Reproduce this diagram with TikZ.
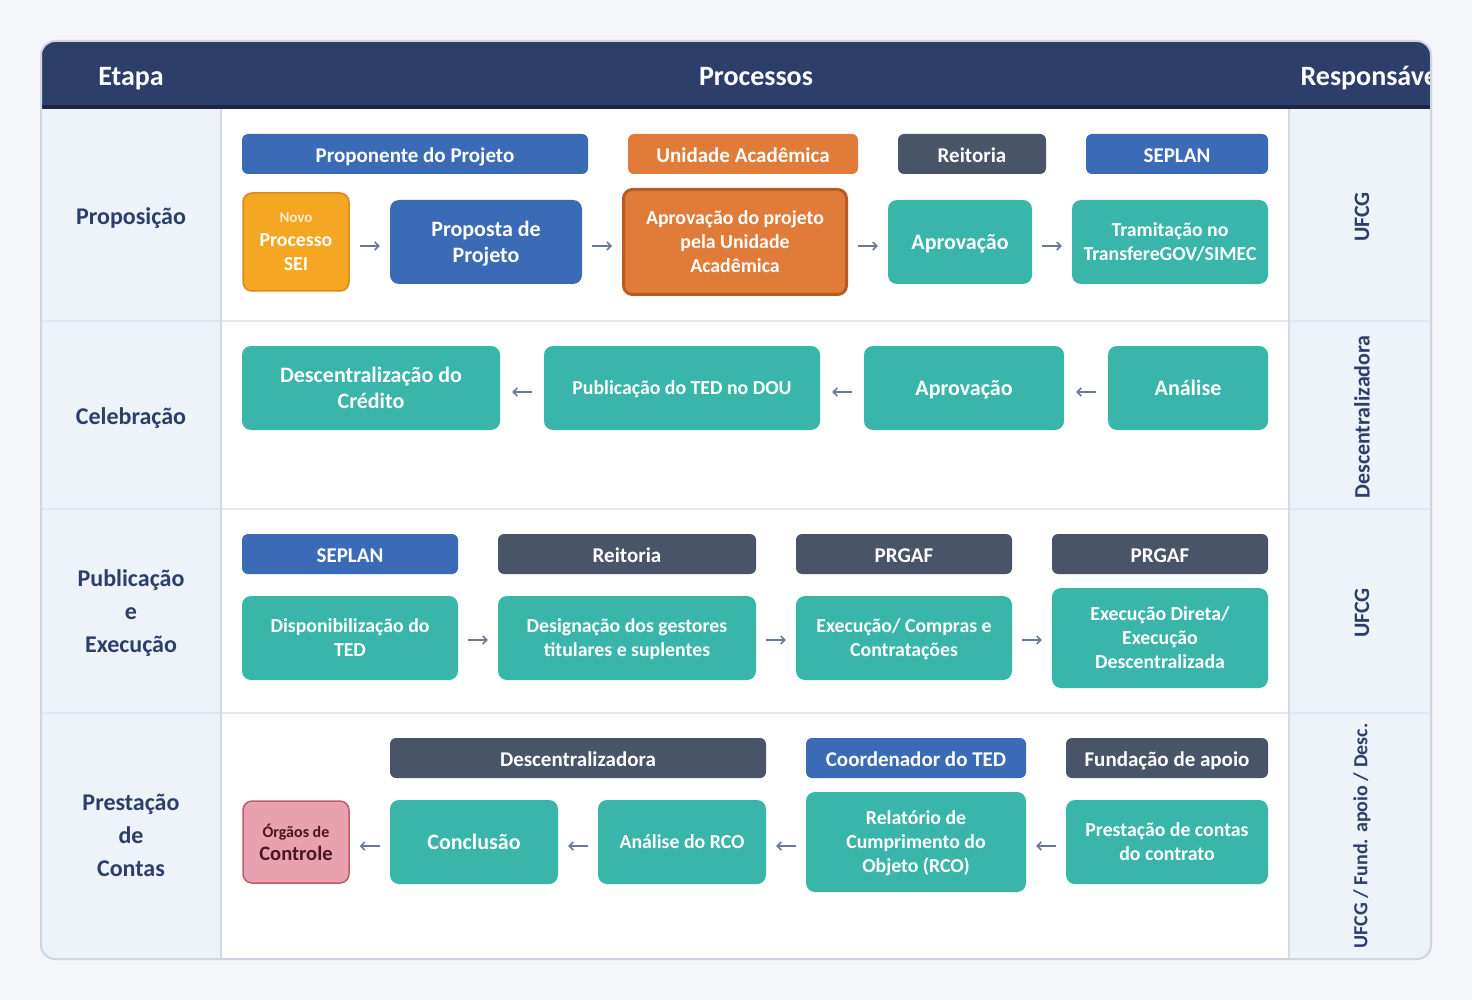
\documentclass[tikz,border=0pt]{standalone}
\usepackage{fontspec}
\setmainfont{Carlito}
\newcommand\semifont{\bfseries}
\usetikzlibrary{arrows.meta}
\definecolor{pagebg}{HTML}{F4F6FA}
\definecolor{headblue}{HTML}{2D3E6B}
\definecolor{headdark}{HTML}{1B2545}
\definecolor{cellbg}{HTML}{EEF3FA}
\definecolor{rowline}{HTML}{E3E8F0}
\definecolor{colline}{HTML}{D3DAE5}
\definecolor{outerline}{HTML}{CDD5E0}
\definecolor{navy}{HTML}{2C3E6B}
\definecolor{cblue}{HTML}{3B6BB7}
\definecolor{corange}{HTML}{E07B39}
\definecolor{corangedk}{HTML}{B85B22}
\definecolor{cgrey}{HTML}{4A5468}
\definecolor{cteal}{HTML}{3AB5A9}
\definecolor{cyellow}{HTML}{F5A623}
\definecolor{cyellowdk}{HTML}{D98B1C}
\definecolor{cpink}{HTML}{E8A1AF}
\definecolor{cpinkdk}{HTML}{C25A70}
\definecolor{cmaroon}{HTML}{4B1522}
\definecolor{carrow}{HTML}{6B7896}
\tikzset{
  lab/.style={rounded corners=6pt, minimum height=40pt, text=white, inner sep=0pt,
    text height=17pt, text depth=0pt, font=\fontsize{21}{22}\selectfont\bfseries},
  stepbox/.style={rounded corners=9pt, text=white, align=center, inner sep=0pt, text depth=-4pt,
    minimum height=84pt, font=\semifont\fontsize{19.8}{24}\selectfont},
  tealbox/.style={stepbox, fill=cteal},
  bigtxt/.style={font=\semifont\fontsize{22}{26}\selectfont},
  rowlabel/.style={text=navy, align=center, text depth=0pt, font=\fontsize{24}{33}\selectfont\bfseries},
  resp/.style={text=navy, rotate=90, font=\fontsize{22}{22}\selectfont\bfseries},
  headtxt/.style={text=white, text height=19pt, text depth=0pt, font=\fontsize{28}{28}\selectfont\bfseries},
  flow/.style={draw=carrow, line width=1.5pt, -{Straight Barb[length=4pt,width=8pt]}, shorten <=10pt, shorten >=10pt},
  flowwide/.style={flow, shorten <=12pt, shorten >=12pt}
}
\begin{document}
\begin{tikzpicture}[x=1pt,y=-1pt]
\fill[pagebg] (0,0) rectangle (1472,1000);
\useasboundingbox (0,0) rectangle (1472,1000);
\begin{scope}
\clip[rounded corners=14pt] (41,41) rectangle (1431,959);
\fill[white] (41,41) rectangle (1431,959);
\fill[headblue] (41,41) rectangle (1431,105);
\fill[headdark] (41,105) rectangle (1431,109);
\fill[cellbg] (41,109) rectangle (221,959);
\fill[cellbg] (1289,109) rectangle (1431,959);
\foreach \yy in {321,509,713}{\draw[rowline, line width=2pt] (41,\yy) -- (1431,\yy);}
\draw[colline, line width=2pt] (221,109) -- (221,959);
\draw[colline, line width=2pt] (1289,109) -- (1289,959);
\node[headtxt] (hEtapa) at (131,76) {Etapa};
\node[headtxt] (hProc) at (756,76) {Processos};
\node[headtxt, anchor=west] (hResp) at (1297,76) {Responsável};
\end{scope}
\draw[outerline, line width=2pt, rounded corners=14pt] (41,41) rectangle (1431,959);

% Row labels
\node[rowlabel] (e1) at (131,216) {Proposição};
\node[rowlabel] (e2) at (131,416) {Celebração};
\node[rowlabel] (e3) at (131,611) {Publicação\\e\\Execução};
\node[rowlabel] (e4) at (131,835) {Prestação\\de\\Contas};

% Responsavel
\node[resp] (r1) at (1362,217) {UFCG};
\node[resp] (r2) at (1362,417) {Descentralizadora};
\node[resp] (r3) at (1362,613) {UFCG};
\node[resp, font=\fontsize{20}{20}\selectfont\bfseries] (r4) at (1362,836) {UFCG / Fund. apoio / Desc.};

% Row 1
\node[lab, fill=cblue, minimum width=346pt] (l11) at (415,154) {Proponente do Projeto};
\node[lab, fill=corange, minimum width=230pt] (l12) at (743,154) {Unidade Acadêmica};
\node[lab, fill=cgrey, minimum width=148pt] (l13) at (972,154) {Reitoria};
\node[lab, fill=cblue, minimum width=182pt] (l14) at (1177,154) {SEPLAN};

\node[stepbox, fill=cyellow, draw=cyellowdk, line width=1.5pt, minimum width=106pt, minimum height=98pt] (n11) at (296,242)
  {{\fontsize{15}{16}\selectfont\color{white!80!cyellow}Novo}\\[0pt]Processo\\SEI};
\node[stepbox, bigtxt, fill=cblue, minimum width=192pt] (n12) at (486,242) {Proposta de\\Projeto};
\node[stepbox, fill=corange, draw=corangedk, line width=3pt, minimum width=223pt, minimum height=105pt] (n13) at (735,242) {Aprovação do projeto\\pela Unidade\\Acadêmica};
\node[tealbox, bigtxt, minimum width=144pt] (n14) at (960,242) {Aprovação};
\node[tealbox, minimum width=196pt] (n15) at (1170,242) {Tramitação no\\TransfereGOV/SIMEC};
\draw[flow] ([yshift=-4pt]n11.east) -- ([yshift=-4pt]n12.west);
\draw[flow] ([yshift=-4pt]n12.east) -- ([yshift=-4pt]n13.west);
\draw[flow] ([yshift=-4pt]n13.east) -- ([yshift=-4pt]n14.west);
\draw[flow] ([yshift=-4pt]n14.east) -- ([yshift=-4pt]n15.west);

% Row 2
\node[tealbox, bigtxt, minimum width=258pt] (n21) at (371,388) {Descentralização do\\Crédito};
\node[tealbox, minimum width=276pt] (n22) at (682,388) {Publicação do TED no DOU};
\node[tealbox, bigtxt, minimum width=200pt] (n23) at (964,388) {Aprovação};
\node[tealbox, bigtxt, minimum width=160pt] (n24) at (1188,388) {Análise};
\draw[flowwide] ([yshift=-4pt]n24.west) -- ([yshift=-4pt]n23.east);
\draw[flowwide] ([yshift=-4pt]n23.west) -- ([yshift=-4pt]n22.east);
\draw[flowwide] ([yshift=-4pt]n22.west) -- ([yshift=-4pt]n21.east);

% Row 3
\node[lab, fill=cblue, minimum width=216pt] (l31) at (350,554) {SEPLAN};
\node[lab, fill=cgrey, minimum width=258pt] (l32) at (627,554) {Reitoria};
\node[lab, fill=cgrey, minimum width=216pt] (l33) at (904,554) {PRGAF};
\node[lab, fill=cgrey, minimum width=216pt] (l34) at (1160,554) {PRGAF};
\node[tealbox, minimum width=216pt] (n31) at (350,638) {Disponibilização do\\TED};
\node[tealbox, minimum width=258pt] (n32) at (627,638) {Designação dos gestores\\titulares e suplentes};
\node[tealbox, minimum width=216pt] (n33) at (904,638) {Execução/ Compras e\\Contratações};
\node[tealbox, minimum width=216pt, minimum height=100pt] (n34) at (1160,638) {Execução Direta/\\Execução\\Descentralizada};
\draw[flow] ([yshift=-2pt]n31.east) -- ([yshift=-2pt]n32.west);
\draw[flow] ([yshift=-2pt]n32.east) -- ([yshift=-2pt]n33.west);
\draw[flow] ([yshift=-2pt]n33.east) -- ([yshift=-2pt]n34.west);

% Row 4
\node[lab, fill=cgrey, minimum width=376pt] (l41) at (578,758) {Descentralizadora};
\node[lab, fill=cblue, minimum width=220pt] (l42) at (916,758) {Coordenador do TED};
\node[lab, fill=cgrey, minimum width=202pt] (l43) at (1167,758) {Fundação de apoio};
\node[stepbox, fill=cpink, draw=cpinkdk, line width=1.5pt, text=cmaroon, minimum width=106pt, minimum height=82pt] (n41) at (296,842)
  {{\fontsize{16}{17}\selectfont Órgãos de}\\[-1pt]{\fontsize{20.5}{24}\selectfont Controle}};
\node[tealbox, bigtxt, minimum width=168pt] (n42) at (474,842) {Conclusão};
\node[tealbox, minimum width=168pt] (n43) at (682,842) {Análise do RCO};
\node[tealbox, minimum width=220pt, minimum height=100pt] (n44) at (916,842) {Relatório de\\Cumprimento do\\Objeto (RCO)};
\node[tealbox, minimum width=202pt] (n45) at (1167,842) {Prestação de contas\\do contrato};
\draw[flow] ([yshift=-4pt]n45.west) -- ([yshift=-4pt]n44.east);
\draw[flow] ([yshift=-4pt]n44.west) -- ([yshift=-4pt]n43.east);
\draw[flow] ([yshift=-4pt]n43.west) -- ([yshift=-4pt]n42.east);
\draw[flow] ([yshift=-4pt]n42.west) -- ([yshift=-4pt]n41.east);
\end{tikzpicture}
\end{document}
